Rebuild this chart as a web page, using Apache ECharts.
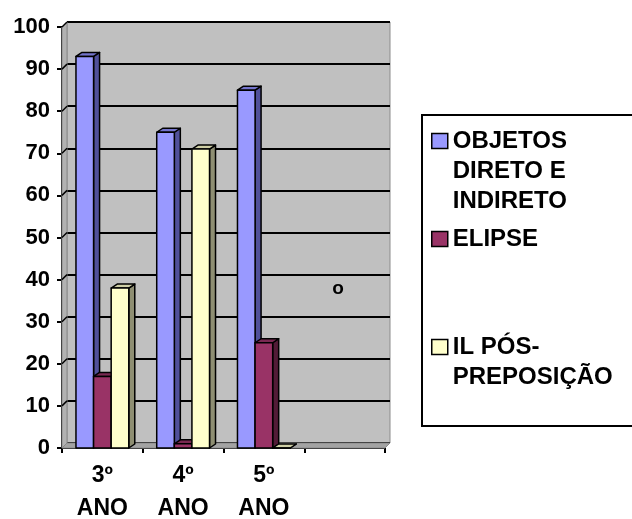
<!DOCTYPE html>
<html>
<head>
<meta charset="utf-8">
<script src="https://cdn.jsdelivr.net/npm/echarts@6/dist/echarts.min.js"></script>
<style>
  html, body { margin: 0; padding: 0; background: #fff; }
  #chart { width: 632px; height: 519px; }
</style>
</head>
<body>
<div id="chart"></div>
<script>
// dados do gráfico
const categories = ['3º\nANO', '4º\nANO', '5º\nANO', ''];
const seriesNames = ['OBJETOS\nDIRETO E\nINDIRETO', 'ELIPSE', 'IL PÓS-\nPREPOSIÇÃO'];
const objetos = [93, 75, 85];
const elipse = [17, 1, 25];
const ilPos = [38, 71, 0];
const yMin = 0, yMax = 100, yStep = 10;
const strayMark = 'o';

const FONT = '"Liberation Sans", Arial, sans-serif';
const DX = 6, DY = 4;   // profundidade das barras
const WX = 5, WY = 5;   // profundidade das paredes

const palette = [
  { front: '#9999ff', side: '#50509a', top: '#7474cc' },
  { front: '#993366', side: '#521b37', top: '#7a2952' },
  { front: '#ffffcc', side: '#8e8e72', top: '#cfcfa6' }
];

function barRenderer(k) {
  const col = palette[k];
  return function (params, api) {
    const cat = api.value(0);
    const base = api.coord([cat, 0]);
    const top = api.coord([cat, api.value(1)]);
    const band = api.size([1, 0])[0];
    const w = band * 0.218;
    const x0 = base[0] - band / 2 + (band - 3 * w) / 2 + k * w;
    const x1 = x0 + w;
    const y0 = top[1], y1 = base[1];
    const line = { stroke: '#000', lineWidth: 1.5, lineJoin: 'round' };
    return {
      type: 'group',
      children: [
        { type: 'polygon', shape: { points: [[x1, y0], [x1 + DX, y0 - DY], [x1 + DX, y1 - DY], [x1, y1]] },
          style: Object.assign({ fill: col.side }, line) },
        { type: 'polygon', shape: { points: [[x0, y0], [x0 + DX, y0 - DY], [x1 + DX, y0 - DY], [x1, y0]] },
          style: Object.assign({ fill: col.top }, line) },
        { type: 'rect', shape: { x: x0, y: y0, width: w, height: y1 - y0 },
          style: Object.assign({ fill: col.front }, line) }
      ]
    };
  };
}

// parede lateral e piso
function wallRenderer(params, api) {
  const cs = params.coordSys;
  const x = cs.x, w = cs.width;
  const yb = api.coord([0, yMin])[1];
  const yt = api.coord([0, yMax])[1];
  const children = [
    { type: 'polygon', shape: { points: [[x, yb], [x + WX, yb - WY], [x + WX, yt - WY], [x, yt]] },
      style: { fill: '#b2b2b2', stroke: '#8a8a8a', lineWidth: 1 } },
    { type: 'polygon', shape: { points: [[x, yb], [x + WX, yb - WY], [x + w + WX, yb - WY], [x + w, yb]] },
      style: { fill: '#a3a3a3', stroke: '#8a8a8a', lineWidth: 1 } }
  ];
  for (let v = yMin + yStep; v <= yMax; v += yStep) {
    const y = api.coord([0, v])[1];
    children.push({ type: 'line', shape: { x1: x, y1: y, x2: x + WX, y2: y - WY },
      style: { stroke: '#000', lineWidth: 1.5 } });
  }
  return { type: 'group', children: children };
}

// cada linha do nome vira um bloco rich, para o ícone ficar na primeira linha
const richLine = { fontFamily: FONT, fontWeight: 'bold', fontSize: 24, lineHeight: 30, color: '#000' };

function legendAt(name, top, padTop) {
  return {
    data: [name],
    top: top,
    left: 431,
    orient: 'vertical',
    icon: 'rect',
    itemWidth: 16,
    itemHeight: 15,
    padding: 0,
    selectedMode: false,
    itemStyle: { borderColor: '#000', borderWidth: 1.5 },
    formatter: n => n.split('\n').map(s => '{t|' + s + '}').join('\n'),
    textStyle: Object.assign({}, richLine, { padding: [padTop, 0, 0, 0], rich: { t: richLine } })
  };
}

const chart = echarts.init(document.getElementById('chart'));
chart.setOption({
  animation: false,
  backgroundColor: '#fff',
  grid: [
    { left: 62, top: 27, width: 323, height: 421, show: false, outerBoundsMode: 'none' },
    { left: 62 + WX, top: 27 - WY, width: 323, height: 421, show: true,
      backgroundColor: '#c0c0c0', borderColor: '#8c8c8c', borderWidth: 1, outerBoundsMode: 'none' }
  ],
  xAxis: [
    {
      type: 'category', gridIndex: 0, data: categories,
      axisLine: { lineStyle: { color: '#000', width: 2 } },
      axisTick: { show: true, length: 5, lineStyle: { color: '#000', width: 2 } },
      axisLabel: { interval: 0, margin: 11, color: '#000', fontFamily: FONT, fontWeight: 'bold',
                   fontSize: 23, lineHeight: 33, hideOverlap: false },
      splitLine: { show: false }
    },
    { type: 'category', gridIndex: 1, data: categories,
      axisLine: { show: false }, axisTick: { show: false }, axisLabel: { show: false }, splitLine: { show: false } }
  ],
  yAxis: [
    {
      type: 'value', gridIndex: 0, min: yMin, max: yMax, interval: yStep,
      axisLine: { show: true, lineStyle: { color: '#000', width: 2 } },
      axisTick: { show: true, length: 5, lineStyle: { color: '#000', width: 2 } },
      axisLabel: { margin: 12, color: '#000', fontFamily: FONT, fontWeight: 'bold', fontSize: 22, hideOverlap: false },
      splitLine: { show: false }
    },
    {
      type: 'value', gridIndex: 1, min: yMin, max: yMax, interval: yStep,
      axisLine: { show: false }, axisTick: { show: false }, axisLabel: { show: false },
      splitLine: { show: true, lineStyle: { color: '#000', width: 2 } }
    }
  ],
  legend: [
    legendAt(seriesNames[0], 66, 60),
    legendAt(seriesNames[1], 224, 0),
    legendAt(seriesNames[2], 302, 30)
  ],
  graphic: [
    { type: 'rect', left: 421, top: 114, z: 0,
      shape: { width: 230, height: 311 },
      style: { fill: '#fff', stroke: '#000', lineWidth: 2 } },
    { type: 'text', x: 338, y: 289, z: 10,
      style: { text: strayMark, fontFamily: FONT, fontWeight: 'bold', fontSize: 19,
               fill: '#000', align: 'center', verticalAlign: 'middle' } }
  ],
  series: [
    { type: 'custom', name: 'walls', xAxisIndex: 0, yAxisIndex: 0, z: 1, silent: true,
      data: [[0, 0]], renderItem: wallRenderer },
    { type: 'custom', name: seriesNames[0], xAxisIndex: 0, yAxisIndex: 0, z: 3,
      itemStyle: { color: palette[0].front }, encode: { x: 0, y: 1 },
      data: objetos.map((v, i) => [i, v]), renderItem: barRenderer(0) },
    { type: 'custom', name: seriesNames[1], xAxisIndex: 0, yAxisIndex: 0, z: 4,
      itemStyle: { color: palette[1].front }, encode: { x: 0, y: 1 },
      data: elipse.map((v, i) => [i, v]), renderItem: barRenderer(1) },
    { type: 'custom', name: seriesNames[2], xAxisIndex: 0, yAxisIndex: 0, z: 5,
      itemStyle: { color: palette[2].front }, encode: { x: 0, y: 1 },
      data: ilPos.map((v, i) => [i, v]), renderItem: barRenderer(2) }
  ]
});
</script>
</body>
</html>
